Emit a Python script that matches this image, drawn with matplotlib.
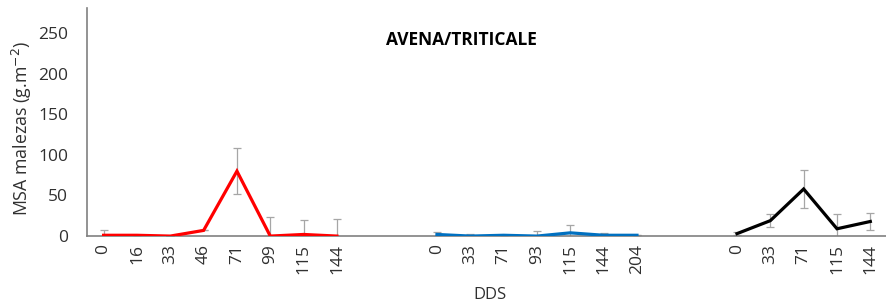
import matplotlib
matplotlib.use("Agg")
import matplotlib.pyplot as plt
import numpy as np

plt.rcParams['font.family'] = ['Open Sans', 'DejaVu Sans']

# categories (empty strings = gaps between groups)
red_labels = ["0", "16", "33", "46", "71", "99", "115", "144"]
blue_labels = ["0", "33", "71", "93", "115", "144", "204"]
black_labels = ["0", "33", "71", "115", "144"]

red_vals = [1, 1, 0, 7, 80, 0, 2, 0]
red_err = [7, 0, 0, 0, 28, 24, 18, 21]
blue_vals = [2, 0, 1, 0, 4, 1, 1]
blue_err = [3, 3, 0, 6, 10, 3, 0]
black_vals = [3, 19, 58, 9, 18]
black_err = [2, 8, 24, 18, 11]

gap = ["", ""]
all_labels = red_labels + gap + blue_labels + gap + black_labels
red_x = np.arange(len(red_labels))
blue_x = np.arange(len(blue_labels)) + len(red_labels) + len(gap)
black_x = np.arange(len(black_labels)) + len(red_labels) + len(blue_labels) + 2 * len(gap)

fig = plt.figure(figsize=(8.87, 3.07), dpi=100)
ax = fig.add_axes([0.098, 0.231, 0.902, 0.743])

ecol = "#A6A6A6"
for xs, vs, es, c in [(red_x, red_vals, red_err, "#FF0000"),
                      (blue_x, blue_vals, blue_err, "#0070C0"),
                      (black_x, black_vals, black_err, "#000000")]:
    ax.errorbar(xs, vs, yerr=es, fmt="none", ecolor=ecol, elinewidth=0.9,
                capsize=3, capthick=0.9, zorder=2)
    ax.plot(xs, vs, color=c, lw=2.3, zorder=3, solid_joinstyle="miter")

ax.set_xlim(-0.5, len(all_labels) - 0.5)
ax.set_ylim(0, 281)
ax.set_yticks([0, 50, 100, 150, 200, 250])
ax.set_xticks(np.arange(len(all_labels)))
ax.set_xticklabels(all_labels, rotation=90)
ax.tick_params(axis="both", length=0, labelsize=12.5, colors="#303030")
ax.tick_params(axis="x", pad=6)
ax.tick_params(axis="y", pad=13.5)
for s in ["top", "right"]:
    ax.spines[s].set_visible(False)
for s in ["left", "bottom"]:
    ax.spines[s].set_color("#808080")
    ax.spines[s].set_linewidth(1.2)

ax.set_ylabel("MSA malezas (g.m$^{-2}$)", fontsize=12.8, color="#303030")
ax.yaxis.set_label_coords(-0.066, 0.474)
fig.text(0.552, 0.04, "DDS", fontsize=12, color="#303030", ha="center", va="center")
ax.text(0.468, 0.86, "AVENA/TRITICALE", transform=ax.transAxes, fontsize=12.5,
        fontweight="bold", ha="center", va="center", color="black")

fig.savefig("out.png", dpi=100)
